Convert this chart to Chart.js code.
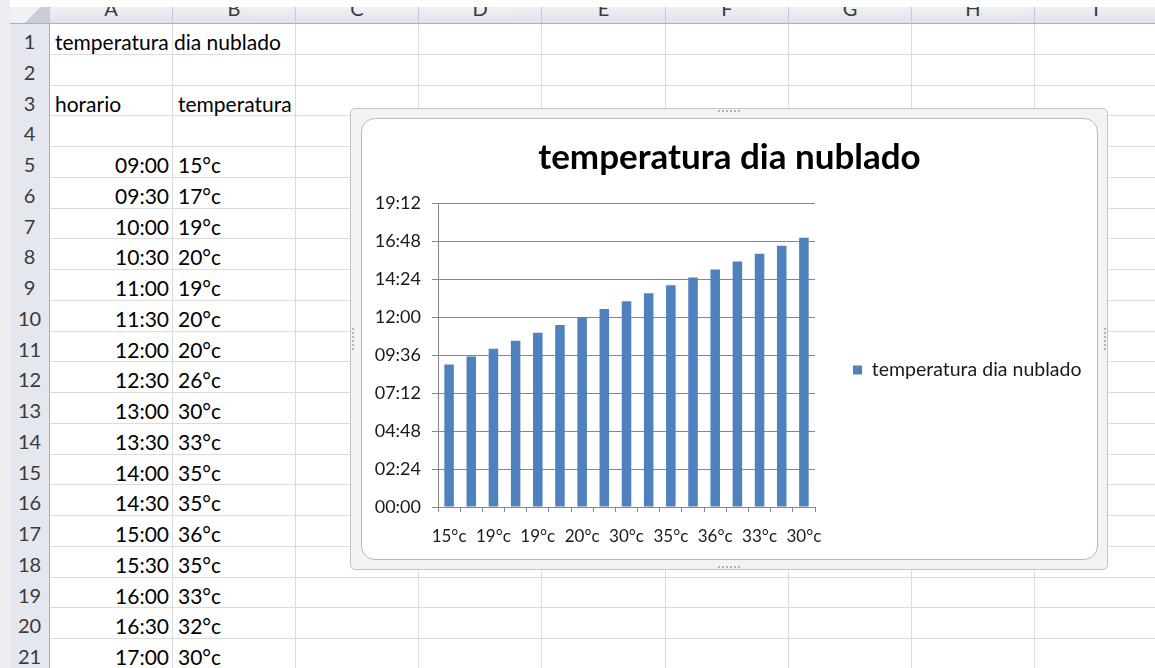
<!DOCTYPE html>
<html>
<head>
<meta charset="utf-8">
<title>temperatura dia nublado</title>
<script src="https://cdn.jsdelivr.net/npm/chart.js@4.4.1/dist/chart.umd.min.js"></script>
<style>
    html, body { margin: 0; padding: 0; background: #fff; overflow: hidden; }
    #sheet { position: relative; width: 1155px; height: 668px; overflow: hidden; font-family: Lato, sans-serif; }
    .abs { position: absolute; box-sizing: border-box; }
    .rowhead { background: #e4e8ee; border-bottom: 1px solid #c5cad2; border-right: 1px solid #a9b0ba;
               text-align: center; color: #3a3a3a; font-size: 20px; }
    .colhead { background: linear-gradient(#eef1f5, #dfe3e9); border-right: 1px solid #c5cad2;
               border-bottom: 1px solid #a9b0ba; overflow: hidden; text-align: center; color: #3a3a3a; font-size: 20px; }
    .colhead span { position: relative; top: -11px; line-height: 24px; }
    .vline { background: #dadcdf; width: 1px; }
    .hline { background: #dadcdf; height: 1px; }
    .txt { font-size: 21px; color: #000; white-space: nowrap; }
    .frame { background: #f3f3f3; border: 1px solid #c4c4c4; border-radius: 5px; }
    .inner { background: #fff; border: 1px solid #b9b9b9; border-radius: 14px; }
    #chart-canvas { position: absolute; left: 362px; top: 119px; }
    .grip { border-top: 2px dotted #b4b4b4; height: 0; }
    .gripv { border-left: 2px dotted #b4b4b4; width: 0; }
</style>
</head>
<body>
<div id="sheet"></div>
<script>
/* datos de la hoja */
const horario = ['09:00', '09:30', '10:00', '10:30', '11:00', '11:30', '12:00', '12:30', '13:00',
                 '13:30', '14:00', '14:30', '15:00', '15:30', '16:00', '16:30', '17:00'];
const temperaturas = ['15°c', '17°c', '19°c', '20°c', '19°c', '20°c', '20°c', '26°c', '30°c',
                      '33°c', '35°c', '35°c', '36°c', '35°c', '33°c', '32°c', '30°c'];
const tituloHoja = 'temperatura dia nublado';
const serieNombre = 'temperatura dia nublado';
const encabezados = ['horario', 'temperatura'];
const columnas = ['A', 'B', 'C', 'D', 'E', 'F', 'G', 'H', 'I'];

// eje vertical en minutos (19:12 = 1152 min, paso 02:24 = 144 min)
const yMax = 1152;
const yStep = 144;

/* ── Hoja de cálculo ── */
const colEdges = [50, 173, 296, 419, 542, 666, 789, 912, 1035, 1158];
const ROW_H = 30.75;
const HEAD_BOTTOM = 24;
const NUM_ROWS = 21;
const sheet = document.getElementById('sheet');

function box(cls, left, top, width, height, html) {
    const d = document.createElement('div');
    d.className = 'abs ' + cls;
    d.style.left = left + 'px';
    d.style.top = top + 'px';
    if (width != null) d.style.width = width + 'px';
    if (height != null) d.style.height = height + 'px';
    if (html != null) d.innerHTML = html;
    sheet.appendChild(d);
    return d;
}

const rowTop = r => HEAD_BOTTOM + (r - 1) * ROW_H;

// franja izquierda y esquina
box('', 0, 0, 10, 668).style.background = '#eceef2';
const corner = box('colhead', 10, 7, 40, 17);
corner.style.background = 'linear-gradient(135deg, #eef1f5 55%, #c9ced6 56%)';

columnas.forEach((c, i) => {
    box('colhead', colEdges[i], 7, colEdges[i + 1] - colEdges[i], 17, '<span>' + c + '</span>');
});

for (let r = 1; r <= NUM_ROWS; r++) {
    const d = box('rowhead', 10, rowTop(r), 40, ROW_H + 1, String(r));
    d.style.lineHeight = (ROW_H + 4) + 'px';
}

// cuadrícula
for (let i = 1; i < colEdges.length; i++) box('vline', colEdges[i] - 1, HEAD_BOTTOM, null, 668);
for (let r = 1; r <= NUM_ROWS; r++) box('hline', 50, rowTop(r + 1) - 1, 1110, null);

function cellText(r, col, text, align) {
    const left = colEdges[col];
    const w = colEdges[col + 1] - left;
    const d = box('txt', left, rowTop(r), align === 'right' ? w : null, ROW_H, text);
    d.style.lineHeight = (ROW_H + 5) + 'px';
    if (align === 'right') { d.style.textAlign = 'right'; d.style.paddingRight = '4px'; }
    else d.style.paddingLeft = '5px';
}

cellText(1, 0, tituloHoja);
cellText(3, 0, encabezados[0]);
cellText(3, 1, encabezados[1]);
horario.forEach((h, i) => {
    cellText(5 + i, 0, h, 'right');
    cellText(5 + i, 1, temperaturas[i]);
});

// marco del gráfico
box('frame', 350, 108, 758, 462);
box('inner', 361, 118, 737, 442);
box('grip', 718, 110, 22);
box('grip', 718, 566, 22);
box('gripv', 352, 328, null, 22);
box('gripv', 1104, 328, null, 22);

const canvas = document.createElement('canvas');
canvas.id = 'chart-canvas';
canvas.width = 735;
canvas.height = 440;
sheet.appendChild(canvas);

/* ── Gráfico ── */
const toMinutes = h => { const [hh, mm] = h.split(':').map(Number); return hh * 60 + mm; };
const fmtTime = m => String(Math.floor(m / 60)).padStart(2, '0') + ':' + String(m % 60).padStart(2, '0');
const valores = horario.map(toMinutes);

const AXIS = '#878787';
const PLOT_LEFT = 76, PLOT_RIGHT = 453, X_AXIS_H = 52;
const LEG_FONT = 19.5, LEG_PAD = 38, LEG_BOX = 9;

// the layout caps right boxes at a quarter of the width; give the legend its real width
const legendWidth = {
    id: 'legendWidth',
    afterInit(chart) {
        const legend = chart.legend;
        if (!legend) return;
        const fit = legend.fit;
        legend.fit = function () {
            fit.call(this);
            this.width = canvas.width - PLOT_RIGHT;
        };
    }
};

new Chart(canvas.getContext('2d'), {
    type: 'bar',
    data: {
        labels: temperaturas,
        datasets: [{
            label: serieNombre,
            data: valores,
            backgroundColor: '#4f81bd',
            borderWidth: 0,
            barPercentage: 0.43,
            categoryPercentage: 1.0
        }]
    },
    options: {
        responsive: false,
        animation: false,
        devicePixelRatio: 1,
        layout: { padding: 0 },
        plugins: {
            title: {
                display: true,
                text: tituloHoja,
                color: '#000',
                font: { family: 'Lato', size: 35, weight: 'bold', lineHeight: 1.2 },
                padding: { top: 18, bottom: 24 }
            },
            legend: {
                position: 'right',
                fullSize: false,
                title: { display: true, text: '', font: { size: 10, lineHeight: 1.2 }, padding: { top: 18, bottom: 0 } },
                labels: {
                    color: '#1a1a1a',
                    boxWidth: LEG_BOX,
                    boxHeight: LEG_BOX,
                    padding: LEG_PAD,
                    font: { family: 'Lato', size: LEG_FONT }
                }
            },
            tooltip: { enabled: false }
        },
        scales: {
            x: {
                afterFit: s => { s.height = X_AXIS_H; },
                grid: { display: true, drawOnChartArea: false, drawTicks: true, tickLength: 5, color: AXIS, offset: true },
                border: { display: true, color: AXIS },
                ticks: {
                    autoSkip: false,
                    maxRotation: 0,
                    padding: 14,
                    color: '#1a1a1a',
                    font: { family: 'Lato', size: 17 },
                    callback: function (v, i) { return i % 2 === 0 ? this.getLabelForValue(v) : ''; }
                }
            },
            y: {
                min: 0,
                max: yMax,
                afterFit: s => { s.width = PLOT_LEFT; },
                grid: { color: AXIS, drawTicks: true, tickLength: 6 },
                border: { display: true, color: AXIS },
                ticks: {
                    stepSize: yStep,
                    padding: 11,
                    color: '#1a1a1a',
                    font: { family: 'Lato', size: 18 },
                    callback: v => fmtTime(v)
                }
            }
        }
    },
    plugins: [legendWidth]
});
</script>
</body>
</html>
